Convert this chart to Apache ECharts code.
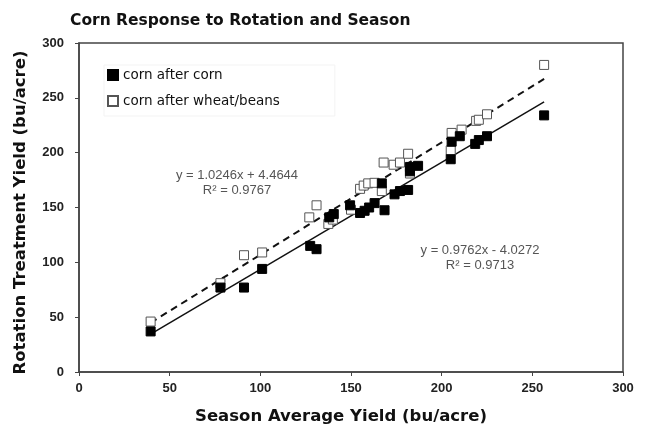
<!DOCTYPE html>
<html>
<head>
<meta charset="utf-8">
<script src="https://cdn.jsdelivr.net/npm/echarts@6/dist/echarts.min.js"></script>
<style>
html,body{margin:0;padding:0;background:#fff;}
#chart{width:647px;height:427px;}
</style>
</head>
<body>
<div id="chart"></div>
<script>
// Data
const cornAfterCorn = [
  [39.5, 37], [78, 77], [91, 77], [101, 94], [127.5, 115], [131, 112],
  [138, 141], [140.5, 144], [149.5, 152], [155, 145], [157.5, 147], [160, 150],
  [163, 154], [168.5, 147.5], [167, 172], [174, 162], [177, 165], [181.5, 166],
  [182.5, 187], [187, 188], [182.5, 183], [205, 194], [205.5, 210], [210, 215],
  [218.5, 208], [220.5, 211.5], [225, 215], [256.5, 234]
];
const cornAfterWheat = [
  [39.5, 46], [78, 81], [91, 106.5], [101, 109], [127, 141], [131, 152],
  [137.5, 135], [140, 139], [150, 148], [155, 167], [157, 170], [159.5, 172],
  [163, 172.5], [167, 165], [168, 191], [173.5, 189], [177, 191], [181.5, 199],
  [182.5, 181], [205, 202], [205.5, 218], [211, 221], [219, 229], [220.5, 230],
  [225, 235], [256.5, 280]
];
const seriesNames = ['corn after corn', 'corn after wheat/beans'];
const fitCorn = [0.9762, -4.0272];   // slope, intercept
const fitWheat = [1.0246, 4.4644];
const r2Corn = 0.9713;
const r2Wheat = 0.9767;
const xTicks = [0, 50, 100, 150, 200, 250, 300];
const yTicks = [0, 50, 100, 150, 200, 250, 300];

function fitLine(pts, fit) {
  const xs = pts.map(p => p[0]);
  const lo = Math.min(...xs), hi = Math.max(...xs);
  return [[lo, fit[0] * lo + fit[1]], [hi, fit[0] * hi + fit[1]]];
}
function eqText(fit) {
  const sign = fit[1] < 0 ? ' - ' : ' + ';
  return 'y = ' + fit[0].toFixed(4) + 'x' + sign + Math.abs(fit[1]).toFixed(4);
}

const comic = 'DejaVu Sans';
const arial = 'Liberation Sans';

const chart = echarts.init(document.getElementById('chart'), null, {renderer: 'canvas'});
chart.setOption({
  animation: false,
  backgroundColor: '#fff',
  title: {
    text: 'Corn Response to Rotation and Season',
    left: 65, top: 8,
    textStyle: {fontFamily: comic, fontWeight: 'bold', fontSize: 15.5, color: '#111'}
  },
  grid: {
    left: 79, right: 24, top: 43, bottom: 55,
    outerBoundsMode: 'none', containLabel: false,
    show: true, borderColor: '#444', borderWidth: 1.5, backgroundColor: '#fff'
  },
  legend: {
    orient: 'vertical', left: 104, top: 65, itemGap: 12,
    itemWidth: 10, itemHeight: 10,
    borderColor: '#f3f3f3', borderWidth: 1, padding: [3, 55, 8, 3],
    data: [
      {name: seriesNames[0], icon: 'rect'},
      {name: seriesNames[1], icon: 'rect'}
    ],
    textStyle: {fontFamily: comic, fontSize: 13.5, color: '#111'}
  },
  xAxis: {
    type: 'value', min: xTicks[0], max: xTicks[xTicks.length - 1], interval: 50,
    name: 'Season Average Yield (bu/acre)', nameLocation: 'middle', nameGap: 36,
    nameTextStyle: {fontFamily: comic, fontWeight: 'bold', fontSize: 16.5, color: '#111',
                    padding: [0, 20, 0, 0]},
    axisLine: {show: true, lineStyle: {color: '#444', width: 1.5}},
    axisTick: {show: true, inside: false, length: 4, lineStyle: {color: '#444'}},
    axisLabel: {fontFamily: arial, fontWeight: 'bold', fontSize: 13, color: '#222', margin: 10},
    splitLine: {show: false}
  },
  yAxis: {
    type: 'value', min: yTicks[0], max: yTicks[yTicks.length - 1], interval: 50,
    name: 'Rotation Treatment Yield (bu/acre)', nameLocation: 'middle', nameGap: 50,
    nameTextStyle: {fontFamily: comic, fontWeight: 'bold', fontSize: 16.5, color: '#111',
                    padding: [0, 10, 0, 0]},
    axisLine: {show: true, lineStyle: {color: '#444', width: 1.5}},
    axisTick: {show: true, inside: false, length: 4, lineStyle: {color: '#444'}},
    axisLabel: {fontFamily: arial, fontWeight: 'bold', fontSize: 13, color: '#222', margin: 15},
    splitLine: {show: false}
  },
  series: [
    {
      name: seriesNames[1] + ' fit', type: 'line', data: fitLine(cornAfterWheat, fitWheat),
      symbol: 'none', lineStyle: {color: '#111', width: 2, type: [7, 5]}, z: 1,
      silent: true
    },
    {
      name: seriesNames[0] + ' fit', type: 'line', data: fitLine(cornAfterCorn, fitCorn),
      symbol: 'none', lineStyle: {color: '#111', width: 1.5}, z: 1, silent: true
    },
    {
      name: seriesNames[1], type: 'scatter', data: cornAfterWheat,
      symbol: 'rect', symbolSize: 9,
      itemStyle: {color: '#fff', borderColor: '#555', borderWidth: 1, opacity: 1}, z: 3
    },
    {
      name: seriesNames[0], type: 'scatter', data: cornAfterCorn,
      symbol: 'rect', symbolSize: 9,
      itemStyle: {color: '#000', borderColor: '#000', borderWidth: 1, opacity: 1}, z: 4
    }
  ],
  graphic: [
    {
      type: 'text',
      style: {
        text: eqText(fitWheat) + '\n' + 'R² = ' + r2Wheat.toFixed(4),
        align: 'center', font: '13px "Liberation Sans"', fill: '#555', lineHeight: 15
      },
      position: [237, 168]
    },
    {
      type: 'text',
      style: {
        text: eqText(fitCorn) + '\n' + 'R² = ' + r2Corn.toFixed(4),
        align: 'center', font: '13px "Liberation Sans"', fill: '#555', lineHeight: 15
      },
      position: [480, 243]
    }
  ]
});
</script>
</body>
</html>
